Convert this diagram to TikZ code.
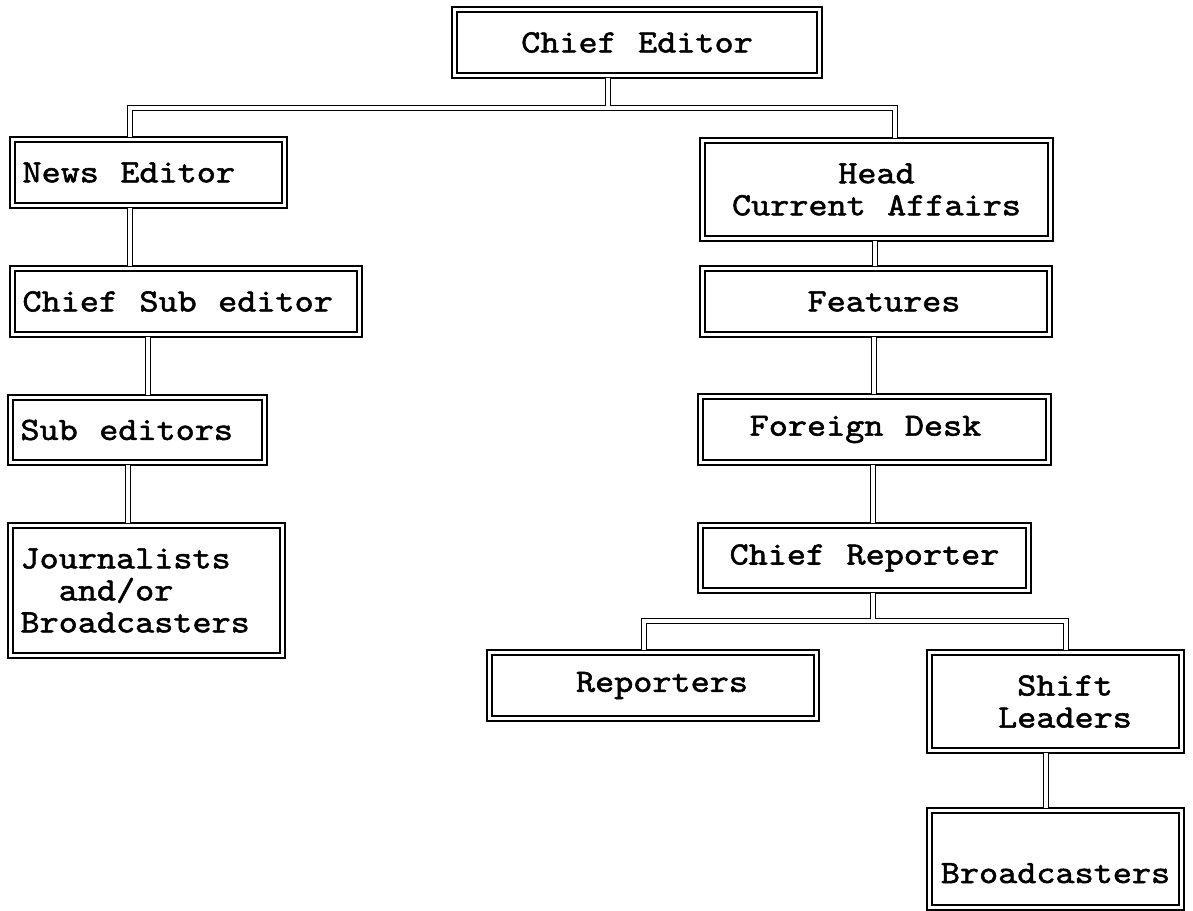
\documentclass[tikz,border=0pt]{standalone}
\usepackage{fontspec}
\newfontfamily\orgfont{lmmono10-regular.otf}[FakeStretch=1.12,FakeBold=1.6,WordSpace={1.12,0,0}]

\begin{document}
\begin{tikzpicture}[x=1pt,y=-1pt,
    orgbox/.style={draw,double,line width=1.8pt,double distance=3.2pt,inner sep=0pt,
      font=\orgfont\fontsize{32.5}{32}\selectfont,align=center},
    leftbox/.style={orgbox,align=flush left,inner xsep=10pt},
    link/.style={draw,double,line width=1.8pt,double distance=3.2pt,
      shorten <=1.6pt,shorten >=1.6pt}]
  \useasboundingbox (0,0) rectangle (1193,910);
  % boxes
  \node[orgbox,minimum width=365pt,minimum height=66pt] (chief) at (637,42.5) {Chief Editor};
  \node[leftbox,text width=252pt,minimum height=66pt] (news) at (148.5,172.5) {News Editor};
  \node[leftbox,text width=327pt,minimum height=66pt] (csub) at (186,301.5) {Chief Sub editor};
  \node[leftbox,text width=234pt,minimum height=65pt] (subed) at (137.5,430) {Sub editors};
  \node[leftbox,text width=252pt,minimum height=130pt] (journ) at (146.5,590.5) {Journalists\\\phantom{aa}and/or\\Broadcasters};
  \node[orgbox,minimum width=348pt,minimum height=98pt] (head) at (876.5,189.5) {Head\\Current Affairs};
  \node[orgbox,minimum width=347pt,minimum height=66pt] (feat) at (876,301.5) {\hspace*{16pt}Features};
  \node[orgbox,minimum width=348pt,minimum height=66pt] (foreign) at (874.5,429.5) {Foreign Desk\hspace*{18pt}};
  \node[orgbox,minimum width=328pt,minimum height=65pt] (crep) at (864.5,558) {Chief Reporter};
  \node[orgbox,minimum width=327pt,minimum height=66pt] (rep) at (653,685.5) {\hspace*{18pt}Reporters};
  \node[orgbox,minimum width=252pt,minimum height=98pt] (shift) at (1055.5,701.5) {\hspace*{19pt}Shift\\\hspace*{19pt}Leaders};
  \node[orgbox,minimum width=252pt,minimum height=97pt,text height=70pt,text depth=22pt] (bcast) at (1055.5,859) {Broadcasters};
  % branches
  \coordinate (chiefsplit) at (608,108);
  \coordinate (repsplit) at (873,621);
  \draw[link] (news.north -| 130,0) |- (chiefsplit) -| (head.north -| 895,0);
  \draw[link] (chief.south -| chiefsplit) -- (chiefsplit);
  \draw[link] (rep.north -| 644,0) |- (repsplit) -| (shift.north -| 1066,0);
  \draw[link] (crep.south -| repsplit) -- (repsplit);
  % single links
  \foreach \a/\b/\x in {news/csub/130,csub/subed/148,subed/journ/128,
      head/feat/875,feat/foreign/874,foreign/crep/873,shift/bcast/1046}
    \draw[link] (\a.south -| \x,0) -- (\b.north -| \x,0);
\end{tikzpicture}
\end{document}
